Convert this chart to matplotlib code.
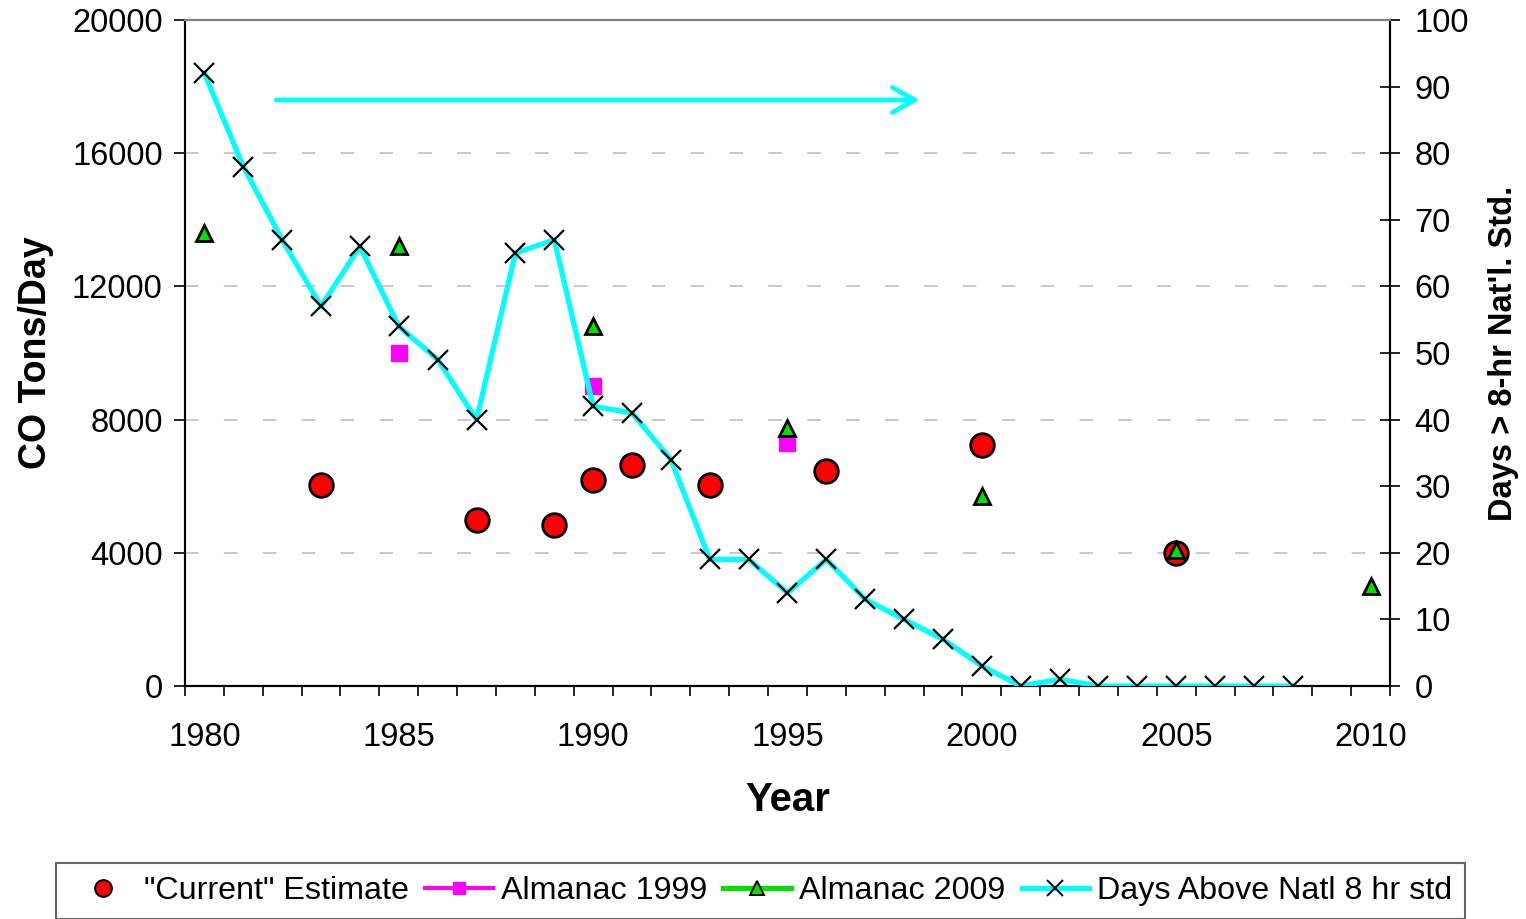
import matplotlib
matplotlib.use("Agg")
import matplotlib.pyplot as plt
from matplotlib.lines import Line2D
import numpy as np

plt.rcParams["font.family"] = ["Liberation Sans", "DejaVu Sans"]

# days above the national 8 hr standard (right axis)
days_years = list(range(1980, 2009))
days = [92, 78, 67, 57, 66, 54, 49, 40, 65, 67, 42, 41, 34, 19, 19, 14, 19,
        13, 10, 7, 3, 0, 1, 0, 0, 0, 0, 0, 0]

# "current" estimate, tons/day
cur_years = [1983, 1987, 1989, 1990, 1991, 1993, 1996, 2000, 2005]
cur_tons = [6050, 5000, 4850, 6200, 6650, 6050, 6450, 7250, 4000]

# almanac 1999
alm99_years = [1985, 1990, 1995]
alm99_tons = [10000, 9000, 7300]

# almanac 2009
alm09_years = [1980, 1985, 1990, 1995, 2000, 2005, 2010]
alm09_tons = [13600, 13200, 10800, 7750, 5700, 4100, 3000]

# trend arrow (start year, end year, level in tons/day)
arrow_x0, arrow_x1, arrow_y = 1981.85, 1998.4, 17600

CYAN = "#00FFFF"
FS = 23.5

fig = plt.figure(figsize=(15.26, 9.19), dpi=100)
ax = fig.add_axes([0.1212, 0.2535, 0.9109 - 0.1212, 0.9782 - 0.2535])
ax2 = ax.twinx()

ax.plot(cur_years, cur_tons, ls="none", marker="o", ms=17, mfc="red",
        mec="black", mew=2, zorder=3)
ax.plot(alm99_years, alm99_tons, ls="none", marker="s", ms=11, mfc="#FF00FF",
        mec="#FF00FF", zorder=3)
ax.plot(alm09_years, alm09_tons, ls="none", marker="^", ms=12, mfc="#00E000",
        mec="black", mew=2, zorder=4)

ax2.plot(days_years, days, color=CYAN, lw=3.8, marker="x", ms=14,
         mec="black", mew=1.6, zorder=3)

ax.annotate("", xy=(arrow_x1, arrow_y), xytext=(arrow_x0, arrow_y),
            arrowprops=dict(arrowstyle="->,head_length=0.8,head_width=0.45",
                            color=CYAN, lw=3.5, mutation_scale=20,
                            shrinkA=0, shrinkB=0, capstyle="round"))

ax.set_xlim(1979.5, 2010.5)
ax.set_ylim(0, 20000)
ax2.set_ylim(0, 100)

ax.set_xticks(range(1980, 2011, 5))
ax.set_xticks(np.arange(1979.5, 2011, 1), minor=True)
ax.tick_params(axis="x", which="major", length=0, pad=26, labelsize=FS)
ax.tick_params(axis="x", which="minor", length=7, width=1.2, direction="out")
ax.set_yticks(range(0, 20001, 4000))
ax.tick_params(axis="y", which="major", length=8, width=1.2, pad=8, labelsize=FS)
ax2.set_yticks(range(0, 101, 10))
ax2.tick_params(axis="y", length=15, width=1.2, direction="inout", pad=10,
                labelsize=FS)

ax.grid(axis="y", color="#C8C8C8", lw=1.4, ls=(0, (7, 13)))
ax.set_axisbelow(True)

for a in (ax, ax2):
    for s in ("left", "bottom", "right"):
        a.spines[s].set_color("black")
        a.spines[s].set_linewidth(1.5)
    a.spines["top"].set_color("#808080")
    a.spines["top"].set_linewidth(1.5)

ax.set_xlabel("Year", fontsize=29, fontweight="bold", labelpad=20)
ax.set_ylabel("CO Tons/Day", fontsize=27, fontweight="bold", labelpad=13)
ax2.set_ylabel("Days > 8-hr Nat'l. Std.", fontsize=23.5, fontweight="bold",
               labelpad=14)

handles = [
    Line2D([], [], ls="none", marker="o", ms=12, mfc="red", mec="black", mew=1.5),
    Line2D([], [], color="#FF00FF", lw=3, marker="s", ms=9, mfc="#FF00FF",
           mec="#FF00FF"),
    Line2D([], [], color="#00E000", lw=3.8, marker="^", ms=10, mfc="#00E000",
           mec="black", mew=1.4),
    Line2D([], [], color=CYAN, lw=3.8, marker="x", ms=11, mec="black", mew=1.4),
]
labels = ['"Current" Estimate', "Almanac 1999", "Almanac 2009",
          "Days Above Natl 8 hr std"]
leg = fig.legend(handles, labels, loc="upper center",
                 bbox_to_anchor=(0.4984, 0.061), ncol=4, fontsize=23.2,
                 frameon=True, fancybox=False, edgecolor="#404040",
                 handlelength=2.1, handletextpad=0.25, columnspacing=0.5,
                 borderpad=0.4, borderaxespad=0)
leg.get_frame().set_linewidth(1.5)

fig.savefig("out.png", dpi=100)
